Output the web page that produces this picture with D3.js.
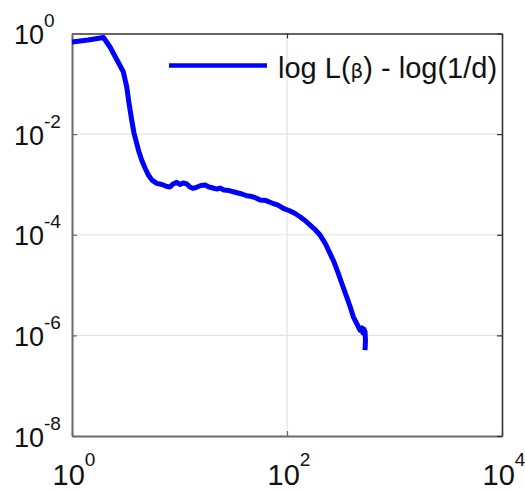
<!DOCTYPE html>
<html>
<head>
<meta charset="utf-8">
<script src="https://cdn.jsdelivr.net/npm/d3@7"></script>
<style>
  html, body { margin: 0; padding: 0; background: #fff; }
  svg text { font-family: "Liberation Sans", Arial, Helvetica, sans-serif; fill: #111; }
</style>
</head>
<body>
<svg id="chart" width="525" height="491"></svg>
<script>
// Iteration count (beta index) and the loss gap log L(beta) - log(1/d)
const betaX = [
  1, 1.409, 1.963, 2.257, 2.622, 3.0, 3.228, 3.39, 3.592, 3.774,
  4.0, 4.2, 4.45, 4.78, 5.13, 5.55, 6.14, 6.87, 7.65, 8.16,
  8.70, 9.42, 10.1, 10.8, 11.7, 12.5, 13.4, 14.6, 15.8, 17.3,
  18.8, 20.5, 22.2, 23.8, 25.9, 28.9, 31.7, 35.0, 38.1, 42.2,
  47.2, 51.5, 56.1, 63.8, 72.5, 82.5, 92.4, 107, 119, 132,
  147, 164, 182, 203, 226, 251, 274, 300, 325, 359,
  385, 414, 448, 478, 499, 509, 520, 532, 537, 532
];
const lossY = [
  0.678, 0.743, 0.833, 0.539, 0.297, 0.174, 0.0876, 0.0415, 0.0191, 0.0105,
  0.00656, 0.00441, 0.00306, 0.00212, 0.00154, 0.00122, 0.00105, 0.000995, 0.000908, 0.000888,
  0.00102, 0.0011, 0.000995, 0.00107, 0.00102, 0.000888, 0.000837, 0.000888, 0.000951, 0.000973,
  0.000888, 0.000848, 0.00081, 0.000848, 0.000774, 0.000756, 0.000716, 0.000675, 0.000645, 0.000596,
  0.000575, 0.000537, 0.00049, 0.000478, 0.000427, 0.00039, 0.000335, 0.000296, 0.000264, 0.000228,
  0.000192, 0.000156, 0.000127, 9.86e-5, 6.84e-5, 4.27e-5, 2.87e-5, 1.71e-5, 1.05e-5, 5.85e-6,
  3.82e-6, 2.34e-6, 1.68e-6, 1.27e-6, 1.40e-6, 1.11e-6, 1.33e-6, 1.18e-6, 8.07e-7, 5.10e-7
];

// Tick positions given as exponents of ten
const xTickExp = [0, 2, 4];
const yTickExp = [0, -2, -4, -6, -8];
const seriesLabel = ["log L(", "\u03B2", ") - log(1/d)"];

const svg = d3.select("#chart");
const W = 525, H = 491;
const margin = { left: 72, right: 23, top: 33.5, bottom: 55 };
const x0 = margin.left, x1 = W - margin.right;
const y0 = margin.top, y1 = H - margin.bottom;

const x = d3.scaleLog().domain([1, 1e4]).range([x0, x1]);
const y = d3.scaleLog().domain([1e-8, 1]).range([y1, y0]);

// Grid lines at interior decades
const grid = svg.append("g").attr("stroke", "#e3e3e3").attr("stroke-width", 1.2);
xTickExp.slice(1, -1).forEach(e => {
  grid.append("line").attr("x1", x(10 ** e)).attr("x2", x(10 ** e))
    .attr("y1", y0).attr("y2", y1);
});
yTickExp.slice(1, -1).forEach(e => {
  grid.append("line").attr("x1", x0).attr("x2", x1)
    .attr("y1", y(10 ** e)).attr("y2", y(10 ** e));
});

// Axes with inward ticks on all four sides
const tickLen = 5;
function styleAxis(g, color, width) {
  g.selectAll(".domain").attr("stroke", color).attr("stroke-width", width);
  g.selectAll(".tick line").attr("stroke", color).attr("stroke-width", 1.2);
  g.selectAll(".tick text").remove();
}
const xVals = xTickExp.map(e => 10 ** e);
const yVals = yTickExp.map(e => 10 ** e);

svg.append("g").attr("transform", `translate(0,${y1})`)
  .call(d3.axisBottom(x).tickValues(xVals).tickSize(-tickLen).tickSizeOuter(0).tickFormat(""))
  .call(g => styleAxis(g, "#6a6a6a", 2));
svg.append("g").attr("transform", `translate(0,${y0})`)
  .call(d3.axisTop(x).tickValues(xVals).tickSize(-tickLen).tickSizeOuter(0).tickFormat(""))
  .call(g => styleAxis(g, "#333", 1.6));
svg.append("g").attr("transform", `translate(${x0},0)`)
  .call(d3.axisLeft(y).tickValues(yVals).tickSize(-tickLen).tickSizeOuter(0).tickFormat(""))
  .call(g => styleAxis(g, "#6a6a6a", 2));
svg.append("g").attr("transform", `translate(${x1},0)`)
  .call(d3.axisRight(y).tickValues(yVals).tickSize(-tickLen).tickSizeOuter(0).tickFormat(""))
  .call(g => styleAxis(g, "#333", 1.6));

// Power-of-ten tick labels
yTickExp.forEach(e => {
  const t = svg.append("text")
    .attr("x", 14).attr("y", y(10 ** e) + 10.5)
    .attr("font-size", 27);
  t.append("tspan").text("10");
  t.append("tspan").attr("dy", -17).attr("font-size", 19).text(String(e).replace("-", "-"));
});
xTickExp.forEach(e => {
  const t = svg.append("text")
    .attr("x", x(10 ** e) + 2).attr("y", y1 + 49)
    .attr("text-anchor", "middle")
    .attr("font-size", 29);
  t.append("tspan").text("10");
  t.append("tspan").attr("dy", -19).attr("font-size", 19).text(String(e));
});

// Loss curve
const pts = betaX.map((b, i) => [b, lossY[i]]);
const line = d3.line().x(d => x(d[0])).y(d => y(d[1]));
svg.append("path").datum(pts)
  .attr("d", line)
  .attr("fill", "none")
  .attr("stroke", "#0000ff")
  .attr("stroke-width", 5)
  .attr("stroke-linejoin", "round");

// Legend
const lg = svg.append("g");
lg.append("line").attr("x1", 169).attr("x2", 267).attr("y1", 65.5).attr("y2", 65.5)
  .attr("stroke", "#0000ff").attr("stroke-width", 4.5);
const lt = lg.append("text").attr("x", 278).attr("y", 78).attr("font-size", 29);
lt.append("tspan").text(seriesLabel[0]);
lt.append("tspan").attr("font-size", 20).attr("font-family", "DejaVu Sans").text(seriesLabel[1]);
lt.append("tspan").text(seriesLabel[2]);
</script>
</body>
</html>
